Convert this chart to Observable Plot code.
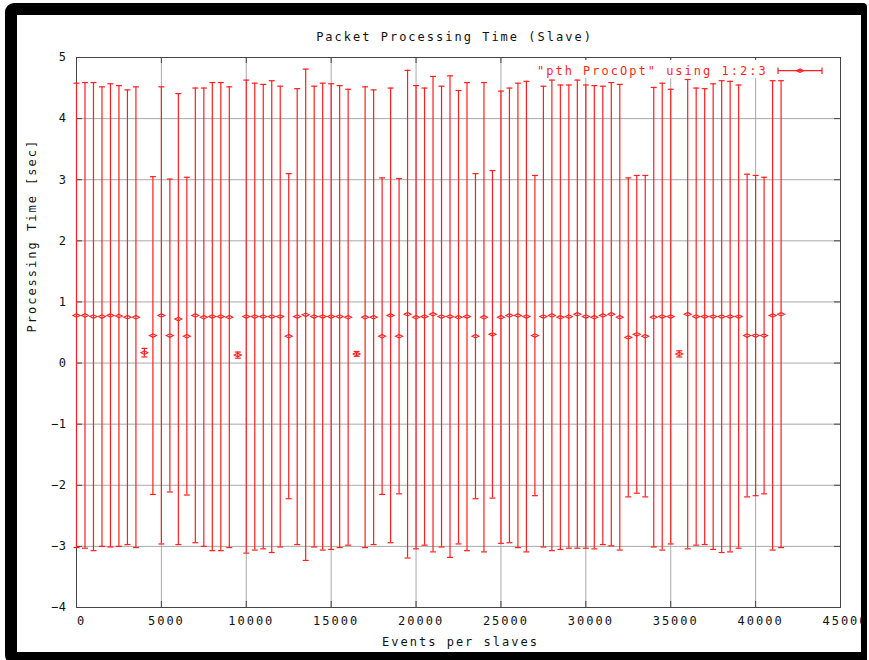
<!DOCTYPE html>
<html>
<head>
<meta charset="utf-8">
<script src="https://cdn.jsdelivr.net/npm/d3@7"></script>
<script src="https://cdn.jsdelivr.net/npm/@observablehq/plot@0.6"></script>
<style>
  html, body { margin: 0; padding: 0; background: #fff; }
  #wrap { position: relative; width: 869px; height: 660px; overflow: hidden; background: #fff; }
  #wrap svg text { letter-spacing: 2px; }
  #wrap svg g.yt text { letter-spacing: 0.5px; }
  #frame {
    position: absolute; left: 5px; top: 3px; width: 844px; height: 637px;
    border-style: solid; border-color: #000; border-width: 12px 6px 12px 12px;
    border-radius: 9px 4px 4px 9px; pointer-events: none;
  }
  #legend { position: absolute; left: 532px; top: 60px; }
  #legend text { font-family: "DejaVu Sans Mono", monospace; font-size: 12px; letter-spacing: 2px; }
</style>
</head>
<body>
<div id="wrap">
  <div id="chart"></div>
  <svg id="legend" width="296" height="18">
    <rect x="0" y="0" width="296" height="18" fill="#fff"></rect>
    <text x="5" y="15" fill="#ff1f1f">"pth ProcOpt" using 1:2:3</text>
    <g stroke="#ff1f1f" stroke-width="1.2" fill="none">
      <line x1="246" y1="10.7" x2="290" y2="10.7"></line>
      <line x1="246" y1="7.5" x2="246" y2="14"></line>
      <line x1="290" y1="7.5" x2="290" y2="14"></line>
      <path d="M264.5,10.7L268,9L271.5,10.7L268,12.4Z"></path>
    </g>
  </svg>
  <div id="frame"></div>
</div>
<script>
// ---- data ----
const events = [
  0, 500, 1000, 1500, 2000, 2500, 3000, 3500, 4000, 4500,
  5000, 5500, 6000, 6500, 7000, 7500, 8000, 8500, 9000, 9500,
  10000, 10500, 11000, 11500, 12000, 12500, 13000, 13500, 14000, 14500,
  15000, 15500, 16000, 16500, 17000, 17500, 18000, 18500, 19000, 19500,
  20000, 20500, 21000, 21500, 22000, 22500, 23000, 23500, 24000, 24500,
  25000, 25500, 26000, 26500, 27000, 27500, 28000, 28500, 29000, 29500,
  30000, 30500, 31000, 31500, 32000, 32500, 33000, 33500, 34000, 34500,
  35000, 35500, 36000, 36500, 37000, 37500, 38000, 38500, 39000, 39500,
  40000, 40500, 41000, 41500
];
const meanTime = [
  0.78, 0.78, 0.76, 0.76, 0.78, 0.77, 0.75, 0.75, 0.17, 0.45,
  0.78, 0.45, 0.72, 0.44, 0.78, 0.75, 0.76, 0.76, 0.75, 0.13,
  0.76, 0.76, 0.76, 0.76, 0.76, 0.44, 0.76, 0.79, 0.76, 0.76,
  0.76, 0.76, 0.75, 0.15, 0.75, 0.75, 0.44, 0.78, 0.44, 0.80,
  0.75, 0.76, 0.80, 0.76, 0.76, 0.75, 0.76, 0.44, 0.75, 0.47,
  0.75, 0.78, 0.78, 0.76, 0.45, 0.76, 0.78, 0.75, 0.76, 0.80,
  0.76, 0.75, 0.78, 0.80, 0.75, 0.42, 0.47, 0.44, 0.75, 0.76,
  0.76, 0.15, 0.80, 0.76, 0.76, 0.76, 0.76, 0.76, 0.76, 0.45,
  0.45, 0.45, 0.78, 0.80
];
const deltaTime = [
  3.80, 3.81, 3.83, 3.76, 3.79, 3.77, 3.72, 3.77, 0.07, 2.60,
  3.74, 2.56, 3.69, 2.60, 3.72, 3.75, 3.83, 3.83, 3.77, 0.05,
  3.87, 3.82, 3.80, 3.86, 3.77, 2.66, 3.73, 4.02, 3.77, 3.82,
  3.81, 3.78, 3.73, 0.04, 3.77, 3.72, 2.59, 3.72, 2.58, 3.99,
  3.79, 3.74, 3.89, 3.77, 3.94, 3.71, 3.83, 2.66, 3.84, 2.68,
  3.70, 3.72, 3.80, 3.85, 2.62, 3.77, 3.85, 3.80, 3.79, 3.83,
  3.79, 3.79, 3.75, 3.79, 3.81, 2.61, 2.60, 2.63, 3.76, 3.82,
  3.72, 0.05, 3.84, 3.74, 3.73, 3.81, 3.86, 3.85, 3.79, 2.64,
  2.62, 2.59, 3.84, 3.82
];
const xTicks = [0, 5000, 10000, 15000, 20000, 25000, 30000, 35000, 40000, 45000];
const yTicks = [-4, -3, -2, -1, 0, 1, 2, 3, 4, 5];
const titleText = "Packet Processing Time (Slave)";
const xLabel = "Events per slaves";
const yLabel = "Processing Time [sec]";

// ---- build ----
const rows = events.map((x, i) => ({
  x, y: meanTime[i], lo: meanTime[i] - deltaTime[i], hi: meanTime[i] + deltaTime[i]
}));

const W = 869, H = 660, mL = 76, mR = 29, mT = 57, mB = 53;
const plotW = W - mL - mR, plotH = H - mT - mB;
const red = "#ff1f1f";
const font = "DejaVu Sans Mono";

const capSym = { draw(ctx, size) { const r = Math.sqrt(size / Math.PI); ctx.moveTo(-r, 0); ctx.lineTo(r, 0); } };
const ptSym = { draw(ctx, size) {
  const r = Math.sqrt(size / Math.PI);
  ctx.moveTo(-r, 0); ctx.lineTo(0, -r * 0.5); ctx.lineTo(r, 0); ctx.lineTo(0, r * 0.5); ctx.closePath();
} };

const chart = Plot.plot({
  width: W, height: H,
  marginLeft: mL, marginRight: mR, marginTop: mT, marginBottom: mB,
  style: { fontFamily: font, fontSize: "12px", color: "#111", background: "#fff", overflow: "visible" },
  x: { domain: [0, 45000] },
  y: { domain: [-4, 5] },
  marks: [
    Plot.gridX(xTicks, { stroke: "#a8a8a8", strokeOpacity: 1 }),
    Plot.gridY(yTicks, { stroke: "#a8a8a8", strokeOpacity: 1 }),
    Plot.ruleX(xTicks, { insetTop: plotH - 6, stroke: "#444" }),
    Plot.ruleX(xTicks, { insetBottom: plotH - 6, stroke: "#444" }),
    Plot.ruleY(yTicks, { insetRight: plotW - 6, stroke: "#444" }),
    Plot.ruleY(yTicks, { insetLeft: plotW - 6, stroke: "#444" }),
    Plot.frame({ stroke: "#444" }),
    Plot.axisX(xTicks, { tickSize: 0, tickPadding: 9, dx: 5, label: null, tickFormat: d => String(d), fontFamily: font, fontSize: 12 }),
    Plot.axisY(yTicks, { tickSize: 0, tickPadding: 10, label: null, className: "yt", tickFormat: d => d < 0 ? "\u2212" + Math.abs(d) : String(d), fontFamily: font, fontSize: 12 }),
    Plot.ruleX(rows, { x: "x", y1: "lo", y2: "hi", stroke: red, strokeWidth: 1.2 }),
    Plot.dot(rows, { x: "x", y: "hi", symbol: capSym, r: 3, stroke: red, fill: "none", strokeWidth: 1.2 }),
    Plot.dot(rows, { x: "x", y: "lo", symbol: capSym, r: 3, stroke: red, fill: "none", strokeWidth: 1.2 }),
    Plot.dot(rows, { x: "x", y: "y", symbol: ptSym, r: 3.5, stroke: red, fill: "none", strokeWidth: 1.1 }),
    Plot.text([titleText], { text: d => d, frameAnchor: "top", dy: -25, dx: -4, fontFamily: font, fontSize: 12, fill: "#111" }),
    Plot.text([xLabel], { text: d => d, frameAnchor: "bottom", dy: 38, dx: 2, fontFamily: font, fontSize: 12, fill: "#111" }),
    Plot.text([yLabel], { text: d => d, frameAnchor: "left", dx: -44, rotate: -90, fontFamily: font, fontSize: 12, fill: "#111" })
  ]
});
document.getElementById("chart").appendChild(chart);
</script>
</body>
</html>
